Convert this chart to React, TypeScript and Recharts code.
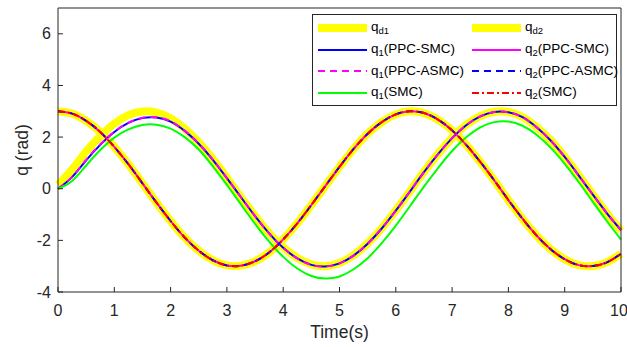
import React from "react";
import { Line, LineChart, XAxis, YAxis } from "recharts";

const FONT = '"Liberation Sans", Arial, Helvetica, sans-serif';
const AXIS = "#262626";

// sample times (s)
const time = [
	0, 0.25, 0.5, 0.75, 1, 1.25, 1.5, 1.75, 2, 2.25, 2.5, 2.75, 3, 3.25, 3.5,
	3.75, 4, 4.25, 4.5, 4.75, 5, 5.25, 5.5, 5.75, 6, 6.25, 6.5, 6.75, 7, 7.25,
	7.5, 7.75, 8, 8.25, 8.5, 8.75, 9, 9.25, 9.5, 9.75, 10,
];

// desired trajectories
const qd1 = [
	0.15, 0.74, 1.44, 2.04, 2.52, 2.85, 2.99, 2.95, 2.73, 2.33, 1.8, 1.15, 0.42,
	-0.33, -1.05, -1.72, -2.27, -2.68, -2.93, -3.0, -2.88, -2.58, -2.12, -1.53,
	-0.84, -0.1, 0.65, 1.35, 1.97, 2.47, 2.81, 2.98, 2.97, 2.78, 2.39, 1.88, 1.24,
	0.52, -0.23, -0.96, -1.63,
];
const qd2 = [
	3.0, 2.91, 2.63, 2.2, 1.62, 0.95, 0.21, -0.54, -1.25, -1.89, -2.4, -2.77,
	-2.97, -2.98, -2.81, -2.47, -1.96, -1.34, -0.63, 0.11, 0.85, 1.54, 2.13, 2.58,
	2.88, 3.0, 2.93, 2.68, 2.26, 1.7, 1.04, 0.32, -0.44, -1.16, -1.81, -2.34,
	-2.73, -2.96, -2.99, -2.85, -2.52,
];

// joint 1
const q1PpcSmc = [
	0, 0.45, 1.1, 1.7, 2.2, 2.55, 2.74, 2.76, 2.6, 2.24, 1.74, 1.12, 0.41, -0.33,
	-1.06, -1.73, -2.29, -2.7, -2.95, -3.01, -2.89, -2.59, -2.13, -1.54, -0.85,
	-0.11, 0.64, 1.34, 1.96, 2.46, 2.8, 2.97, 2.96, 2.77, 2.38, 1.87, 1.23, 0.51,
	-0.23, -0.95, -1.6,
];
const q1PpcAsmc = [
	0, 0.46, 1.12, 1.72, 2.21, 2.56, 2.75, 2.77, 2.61, 2.25, 1.75, 1.13, 0.41,
	-0.33, -1.06, -1.73, -2.29, -2.7, -2.95, -3.01, -2.89, -2.59, -2.13, -1.54,
	-0.85, -0.11, 0.64, 1.34, 1.96, 2.46, 2.8, 2.97, 2.96, 2.77, 2.38, 1.87, 1.23,
	0.51, -0.23, -0.95, -1.6,
];
const q1Smc = [
	0, 0.3, 0.9, 1.5, 1.98, 2.3, 2.47, 2.48, 2.33, 2.0, 1.52, 0.87, 0.15, -0.61,
	-1.36, -2.05, -2.64, -3.09, -3.38, -3.48, -3.4, -3.12, -2.69, -2.11, -1.43,
	-0.68, 0.08, 0.8, 1.46, 1.99, 2.38, 2.58, 2.6, 2.44, 2.09, 1.59, 0.96, 0.25,
	-0.51, -1.26, -1.97,
];

// joint 2 (all three controllers sit on the reference)
const q2PpcSmc = [
	3.0, 2.91, 2.63, 2.2, 1.62, 0.95, 0.21, -0.54, -1.25, -1.89, -2.4, -2.77,
	-2.97, -2.98, -2.81, -2.47, -1.96, -1.34, -0.63, 0.11, 0.85, 1.54, 2.13, 2.58,
	2.88, 3.0, 2.93, 2.68, 2.26, 1.7, 1.04, 0.32, -0.44, -1.16, -1.81, -2.34,
	-2.73, -2.96, -2.99, -2.85, -2.52,
];
const q2PpcAsmc = q2PpcSmc;
const q2Smc = q2PpcSmc;

const xTicks = [0, 1, 2, 3, 4, 5, 6, 7, 8, 9, 10];
const yTicks = [-4, -2, 0, 2, 4, 6];

const series = [
	{ key: "qd1", values: qd1, sub: "d1", tail: "", color: "#ffff00", width: 8, dash: undefined },
	{ key: "qd2", values: qd2, sub: "d2", tail: "", color: "#ffff00", width: 8, dash: undefined },
	{ key: "q1a", values: q1PpcSmc, sub: "1", tail: "(PPC-SMC)", color: "#0000ff", width: 2, dash: undefined },
	{ key: "q2a", values: q2PpcSmc, sub: "2", tail: "(PPC-SMC)", color: "#ff00ff", width: 2, dash: undefined },
	{ key: "q1b", values: q1PpcAsmc, sub: "1", tail: "(PPC-ASMC)", color: "#ff00ff", width: 2, dash: "7 5" },
	{ key: "q2b", values: q2PpcAsmc, sub: "2", tail: "(PPC-ASMC)", color: "#0000ff", width: 2, dash: "7 5" },
	{ key: "q1c", values: q1Smc, sub: "1", tail: "(SMC)", color: "#00ff00", width: 2, dash: undefined },
	{ key: "q2c", values: q2Smc, sub: "2", tail: "(SMC)", color: "#ff0000", width: 2, dash: "7 3 2 3" },
];

const rows = time.map((t, i) => {
	const row: Record<string, number> = { t };
	for (const s of series) row[s.key] = s.values[i];
	return row;
});

function LegendBox() {
	return (
		<div
			style={{
				position: "absolute",
				left: 312,
				top: 14,
				width: 305,
				height: 92,
				border: `1px solid ${AXIS}`,
				background: "#fff",
				display: "grid",
				gridTemplateColumns: "154px 151px",
				gridAutoRows: "21.7px",
				paddingTop: 2,
				boxSizing: "border-box",
				fontFamily: FONT,
				fontSize: 13.5,
				color: "#000",
			}}
		>
			{series.map((s) => (
				<div key={s.key} style={{ display: "flex", alignItems: "center" }}>
					<svg width={58} height={12} style={{ flex: "none" }}>
						<line
							x1={5}
							x2={54}
							y1={6}
							y2={6}
							stroke={s.color}
							strokeWidth={s.width}
							strokeDasharray={s.dash}
						/>
					</svg>
					<span style={{ whiteSpace: "nowrap" }}>
						q<sub style={{ fontSize: 9.5, verticalAlign: "-3px" }}>{s.sub}</sub>
						{s.tail}
					</span>
				</div>
			))}
		</div>
	);
}

export default function App() {
	return (
		<div
			style={{
				position: "absolute",
				left: 0,
				top: 0,
				width: 627,
				height: 347,
				background: "#fff",
				fontFamily: FONT,
			}}
		>
			<LineChart
				width={627}
				height={347}
				data={rows}
				margin={{ top: 7, right: 5, bottom: 0, left: 0 }}
			>
				<XAxis
					xAxisId="top"
					orientation="top"
					dataKey="t"
					type="number"
					domain={[0, 10]}
					ticks={xTicks}
					height={1}
					tick={false}
					tickSize={-5}
					stroke={AXIS}
				/>
				<YAxis
					yAxisId="right"
					orientation="right"
					type="number"
					domain={[-4, 7]}
					ticks={yTicks}
					width={1}
					tick={false}
					tickSize={-5}
					stroke={AXIS}
				/>
				<XAxis
					dataKey="t"
					type="number"
					domain={[0, 10]}
					ticks={xTicks}
					height={55}
					tickSize={-5}
					tickMargin={18}
					stroke={AXIS}
					tick={{ fill: AXIS, fontSize: 16, fontFamily: FONT }}
					label={{
						value: "Time(s)",
						position: "insideBottom",
						offset: 9,
						fill: AXIS,
						fontSize: 17.5,
						fontFamily: FONT,
					}}
				/>
				<YAxis
					type="number"
					domain={[-4, 7]}
					ticks={yTicks}
					width={58}
					tickSize={-5}
					tickMargin={12}
					stroke={AXIS}
					tick={{ fill: AXIS, fontSize: 16, fontFamily: FONT }}
					label={{
						value: "q (rad)",
						angle: -90,
						position: "insideLeft",
						offset: 22,
						fill: AXIS,
						fontSize: 17.5,
						fontFamily: FONT,
						style: { textAnchor: "middle" },
					}}
				/>
				{series.map((s) => (
					<Line
						key={s.key}
						dataKey={s.key}
						type="natural"
						stroke={s.color}
						strokeWidth={s.width}
						strokeDasharray={s.dash}
						dot={false}
						activeDot={false}
						isAnimationActive={false}
					/>
				))}
			</LineChart>
			<LegendBox />
		</div>
	);
}
